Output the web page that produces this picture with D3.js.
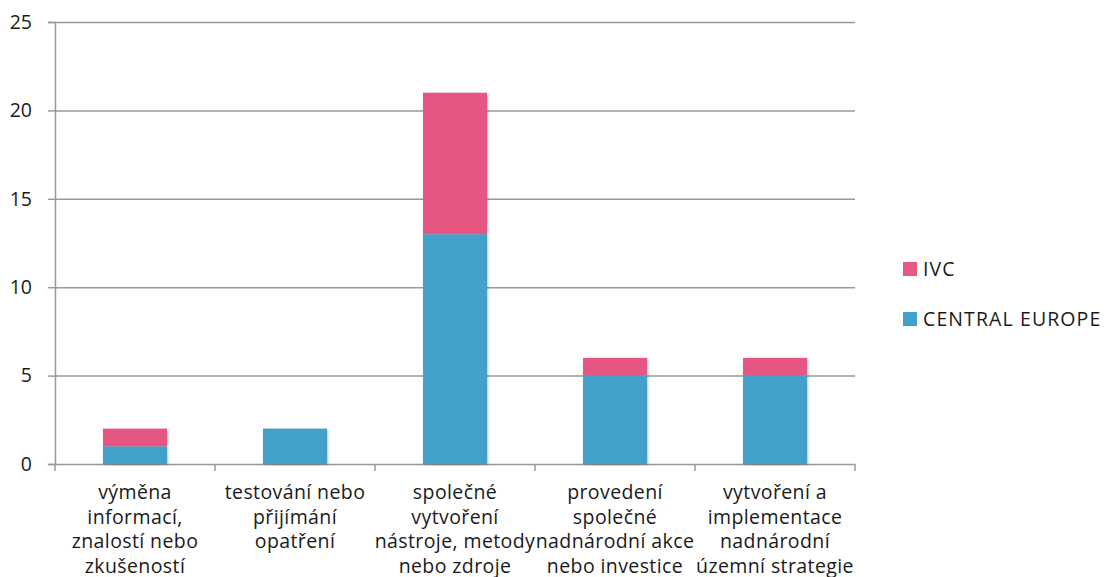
<!DOCTYPE html>
<html>
<head>
<meta charset="utf-8">
<script src="https://cdn.jsdelivr.net/npm/d3@7"></script>
<style>
  body { margin: 0; background: #fff; }
  text { font-family: "Open Sans", sans-serif; fill: #1a1a1a; }
</style>
</head>
<body>
<svg id="chart" width="1107" height="577"></svg>
<script>
const categories = [
    ["výměna", "informací,", "znalostí nebo", "zkušeností"],
    ["testování nebo", "přijímání", "opatření"],
    ["společné", "vytvoření", "nástroje, metody", "nebo zdroje"],
    ["provedení", "společné", "nadnárodní akce", "nebo investice"],
    ["vytvoření a", "implementace", "nadnárodní", "územní strategie"]
];
const centralEurope = [1, 2, 13, 5, 5];
const ivc = [1, 0, 8, 1, 1];
const seriesNames = ["CENTRAL EUROPE", "IVC"];
const seriesColors = ["#3fa2cb", "#e75782"];
const yTicks = [0, 5, 10, 15, 20, 25];

const plotLeft = 55, plotRight = 855, plotTop = 22, plotBottom = 464;
const fontSize = 19.5;

const svg = d3.select("#chart");

const xScale = d3.scaleBand()
                .domain(d3.range(categories.length))
                .range([plotLeft, plotRight])
                .paddingInner(0)
                .paddingOuter(0);
const yScale = d3.scaleLinear()
                .domain([0, 25])
                .range([plotBottom, plotTop]);

// gridlines + left axis
svg.append("g")
    .attr("transform", `translate(${plotLeft}, 0)`)
    .call(d3.axisLeft(yScale).tickValues(yTicks).tickSize(7).tickPadding(16))
    .call(g => g.select(".domain").attr("stroke", "#999").attr("stroke-width", 1.5))
    .call(g => g.selectAll(".tick line").attr("stroke", "#999").attr("stroke-width", 1.5))
    .call(g => g.selectAll(".tick line").clone()
        .attr("x1", 0)
        .attr("x2", plotRight - plotLeft))
    .call(g => g.selectAll(".tick text")
        .attr("font-size", fontSize)
        .style("font-family", "'Open Sans', sans-serif")
        .attr("fill", "#1a1a1a"));

// bottom category ticks at band boundaries
const boundaries = d3.range(categories.length + 1).map(i => plotLeft + i * xScale.bandwidth());
svg.append("g")
    .selectAll("line")
    .data(boundaries)
    .join("line")
    .attr("x1", d => d)
    .attr("x2", d => d)
    .attr("y1", plotBottom)
    .attr("y2", plotBottom + 7)
    .attr("stroke", "#999")
    .attr("stroke-width", 1.5);

// shadow filter
const defs = svg.append("defs");
const filt = defs.append("filter").attr("id", "shadow")
    .attr("x", "-10%").attr("y", "-10%").attr("width", "130%").attr("height", "130%");
filt.append("feDropShadow")
    .attr("dx", 1).attr("dy", 1).attr("stdDeviation", 1.2)
    .attr("flood-color", "#000").attr("flood-opacity", 0.25);

// stacked bars
const table = categories.map((c, i) => ({ i: i, ce: centralEurope[i], ivc: ivc[i] }));
const stack = d3.stack().keys(["ce", "ivc"])(table);
const barWidth = xScale.bandwidth() * 0.4;

const barG = svg.append("g").attr("filter", "url(#shadow)");
stack.forEach((layer, k) => {
    barG.append("g")
        .selectAll("rect")
        .data(layer.filter(d => d[1] - d[0] > 0))
        .join("rect")
        .attr("x", d => xScale(d.data.i) + (xScale.bandwidth() - barWidth) / 2)
        .attr("y", d => yScale(d[1]))
        .attr("width", barWidth)
        .attr("height", d => yScale(d[0]) - yScale(d[1]))
        .attr("fill", seriesColors[k]);
});

// category labels
const labelG = svg.append("g");
categories.forEach((lines, i) => {
    labelG.append("text")
        .attr("text-anchor", "middle")
        .attr("font-size", fontSize)
        .attr("letter-spacing", 0.4)
        .selectAll("tspan")
        .data(lines)
        .join("tspan")
        .attr("x", xScale(i) + xScale.bandwidth() / 2)
        .attr("y", (d, j) => 499 + j * 24.5)
        .text(d => d);
});

// legend
const legendItems = [1, 0];
const legend = svg.append("g").attr("transform", "translate(903, 262)");
legend.selectAll("rect")
    .data(legendItems)
    .join("rect")
    .attr("x", 0)
    .attr("y", (d, i) => i * 50)
    .attr("width", 14)
    .attr("height", 14)
    .attr("fill", d => seriesColors[d]);
legend.selectAll("text")
    .data(legendItems)
    .join("text")
    .attr("x", 20)
    .attr("y", (d, i) => i * 50 + 14)
    .attr("font-size", fontSize)
    .attr("letter-spacing", 1.1)
    .text(d => seriesNames[d]);
</script>
</body>
</html>
